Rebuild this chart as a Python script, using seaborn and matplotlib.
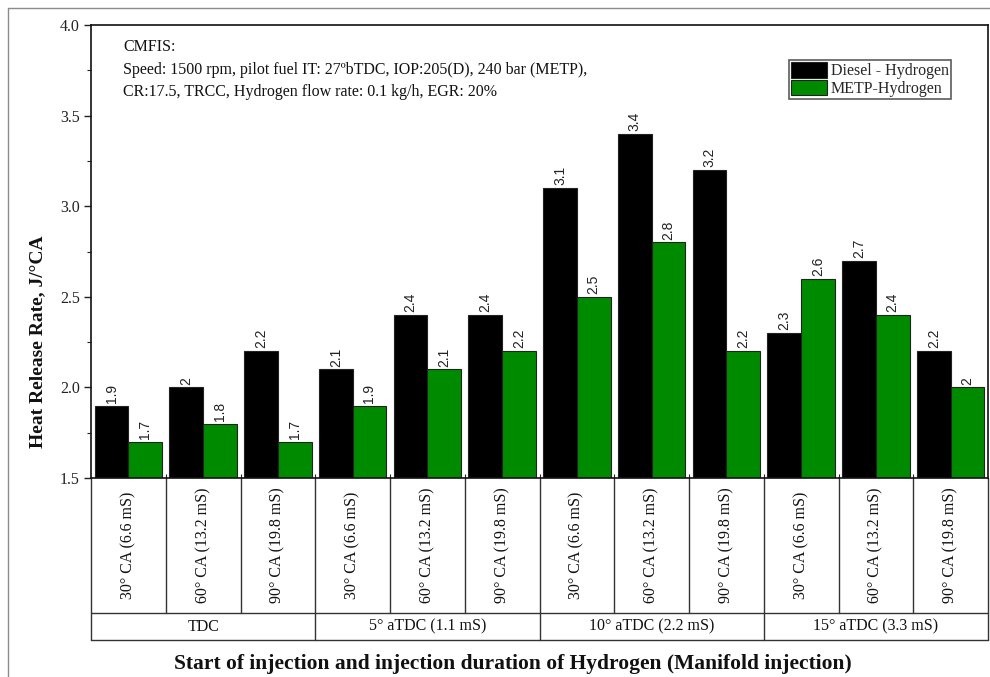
import matplotlib
matplotlib.use("Agg")
import matplotlib.pyplot as plt
from matplotlib.lines import Line2D
from matplotlib.ticker import MultipleLocator, FormatStrFormatter
import numpy as np
import pandas as pd
import seaborn as sns

# Injection duration for each slot, and the start-of-injection group they belong to
durations = ["30° CA (6.6 mS)", "60° CA (13.2 mS)", "90° CA (19.8 mS)"] * 4
groups = ["TDC", "5° aTDC (1.1 mS)", "10° aTDC (2.2 mS)", "15° aTDC (3.3 mS)"]
series_names = ["Diesel - Hydrogen", "METP-Hydrogen"]
diesel_h2 = [1.9, 2.0, 2.2, 2.1, 2.4, 2.4, 3.1, 3.4, 3.2, 2.3, 2.7, 2.2]
metp_h2 = [1.7, 1.8, 1.7, 1.9, 2.1, 2.2, 2.5, 2.8, 2.2, 2.6, 2.4, 2.0]
conditions = [
    "CMFIS:",
    "Speed: 1500 rpm, pilot fuel IT: 27ºbTDC, IOP:205(D), 240 bar (METP),",
    "CR:17.5, TRCC, Hydrogen flow rate: 0.1 kg/h, EGR: 20%",
]
y_label = "Heat Release Rate, J/°CA"
x_label = "Start of injection and injection duration of Hydrogen (Manifold injection)"

sns.set_theme(style="white")
plt.rcParams["font.family"] = ["Liberation Serif", "DejaVu Serif"]

slots = [f"s{i}" for i in range(len(durations))]
df = pd.DataFrame({
    "slot": slots * 2,
    "series": [series_names[0]] * len(slots) + [series_names[1]] * len(slots),
    "hrr": diesel_h2 + metp_h2,
})

fig = plt.figure(figsize=(9.9, 6.77), dpi=100)
ax = fig.add_axes([91 / 990, 1 - 478 / 677, 897 / 990, 453 / 677])

palette = {series_names[0]: "#000000", series_names[1]: "#008a00"}
sns.barplot(data=df, x="slot", y="hrr", hue="series", order=slots,
            hue_order=series_names, palette=palette, width=0.9,
            edgecolor="#222222", linewidth=0.8, saturation=1, ax=ax)

ax.set_ylim(1.5, 4.0)
ax.set_xlim(-0.5, len(slots) - 0.5)
ax.yaxis.set_major_locator(MultipleLocator(0.5))
ax.yaxis.set_minor_locator(MultipleLocator(0.25))
ax.yaxis.set_major_formatter(FormatStrFormatter("%.1f"))
ax.tick_params(axis="y", which="major", direction="out", length=5, width=1,
               labelsize=11.5, left=True, colors="#222222", pad=3)
ax.tick_params(axis="y", which="minor", direction="out", length=3, width=0.8,
               left=True, color="#222222")
ax.set_xticks(np.arange(0.5, len(slots) - 1, 1.0))
ax.tick_params(axis="x", direction="in", length=3, width=0.8, bottom=True,
               labelbottom=False, color="#222222")
ax.set_xlabel("")
ax.set_ylabel("")
for s in ax.spines.values():
    s.set_visible(True)
    s.set_color("#111111")
    s.set_linewidth(1.2)

# value labels over each bar
for cont, vals in zip(ax.containers, [diesel_h2, metp_h2]):
    ax.bar_label(cont, labels=[f"{v:g}" for v in vals], rotation=90,
                 padding=2, fontsize=10, family="Liberation Sans",
                 color="#222222")

# legend
leg = ax.legend(loc="upper right", bbox_to_anchor=(0.959, 0.923),
                borderaxespad=0, fontsize=11.5, frameon=True, fancybox=False,
                handlelength=2.25, handleheight=1.12, handletextpad=0.25,
                labelspacing=0.02, borderpad=0.15)
leg.get_frame().set_edgecolor("#333333")
leg.get_frame().set_linewidth(1.2)
for h in leg.legend_handles:
    h.set_edgecolor("#222222")
    h.set_linewidth(0.8)

# operating conditions block
for txt, yy in zip(conditions, [0.951, 0.901, 0.852]):
    ax.text(0.0357, yy, txt, transform=ax.transAxes, ha="left", va="center",
            fontsize=11.5, color="#111111")

# two-row category table below the axis
tr = ax.get_xaxis_transform()
row1, row2 = -0.298, -0.358
lc, lw = "#333333", 1.0
ax.plot([-0.5, len(slots) - 0.5], [row1, row1], transform=tr, color=lc,
        lw=lw, clip_on=False)
ax.plot([-0.5, len(slots) - 0.5], [row2, row2], transform=tr, color=lc,
        lw=lw, clip_on=False)
for b in np.arange(-0.5, len(slots), 1.0):
    outer = (b == -0.5) or (b == len(slots) - 0.5) or ((b + 0.5) % 3 == 0)
    ax.plot([b, b], [0, row2 if outer else row1], transform=tr, color=lc,
            lw=lw, clip_on=False)
for i, d in enumerate(durations):
    ax.text(i, row1 / 2, d, transform=tr, rotation=90, ha="center",
            va="center", fontsize=11.5, color="#111111")
for g, name in enumerate(groups):
    ax.text(3 * g + 1, (row1 + row2) / 2, name, transform=tr, ha="center",
            va="center", fontsize=11.5, color="#111111")

fig.text(38 / 990, 1 - 342 / 677, y_label, rotation=90, ha="center",
         va="center", fontsize=14, fontweight="bold", color="#111111")
fig.text(513 / 990, 1 - 664 / 677, x_label, ha="center", va="center",
         fontsize=15.5, fontweight="bold", color="#111111")

# outer grey frame
fig.add_artist(Line2D([8 / 990, 8 / 990], [0, 1 - 8 / 677],
                      transform=fig.transFigure, color="#8c8c8c", lw=1))
fig.add_artist(Line2D([8 / 990, 1], [1 - 8 / 677, 1 - 8 / 677],
                      transform=fig.transFigure, color="#8c8c8c", lw=1))

fig.savefig("out.png", dpi=100, facecolor="white")
